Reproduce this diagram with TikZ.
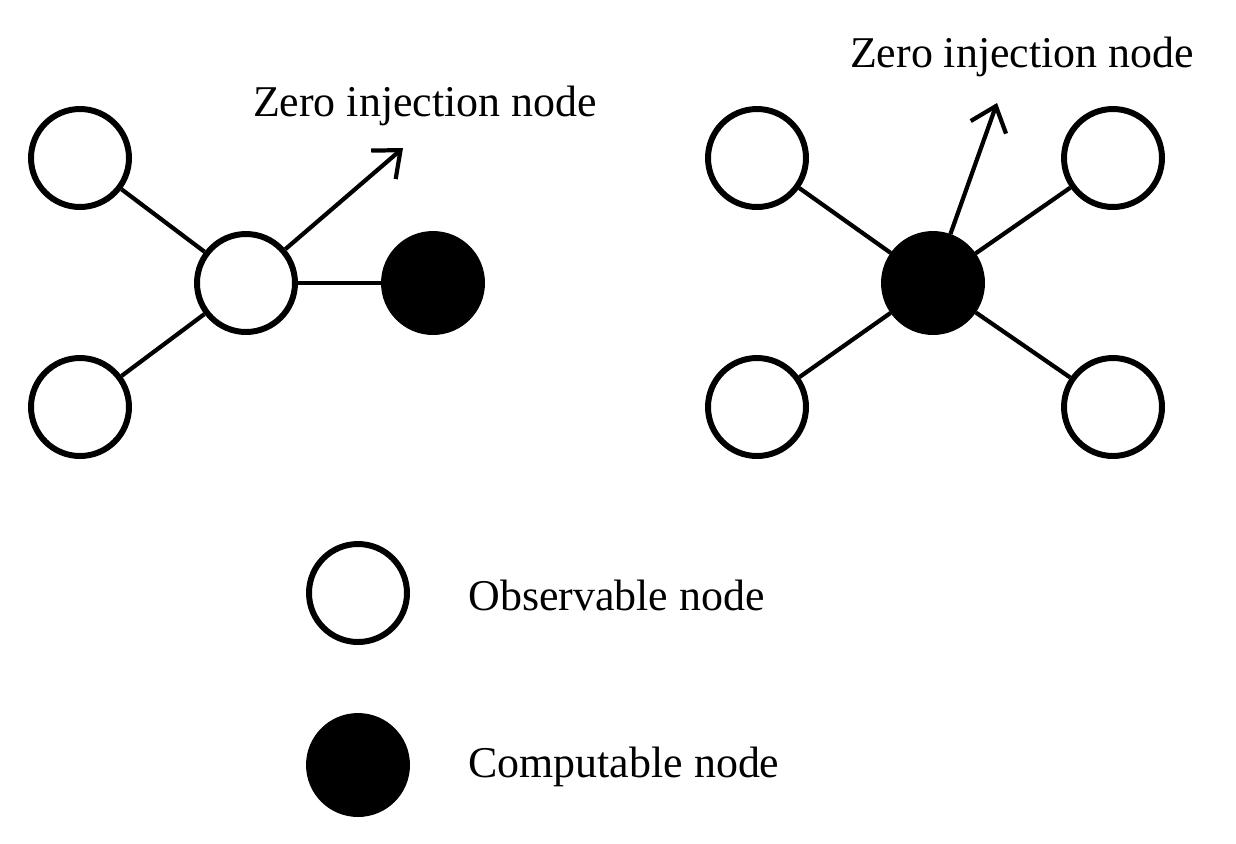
\documentclass[tikz,border=0pt]{standalone}
\usepackage{fontspec}
\setmainfont{Liberation Serif}
\usetikzlibrary{arrows.meta}
\begin{document}
\begin{tikzpicture}[x=0.02cm,y=-0.02cm,
  obs/.style={circle,draw,line width=3.4pt,minimum size=1.96cm,inner sep=0pt,fill=white},
  comp/.style={circle,draw,line width=3.4pt,minimum size=1.96cm,inner sep=0pt,fill=black},
  edge/.style={line width=2.4pt},
  arr/.style={line width=2.4pt,-{Straight Barb[length=0.45cm,width=0.75cm,line width=2.4pt]}},
  lbl/.style={font=\fontsize{25}{30}\selectfont,inner sep=0pt}]
\useasboundingbox (0,0) rectangle (1236,843);
% left
\node[obs] (l1) at (80,158) {};
\node[obs] (l2) at (80,407) {};
\node[obs] (lc) at (246,283) {};
\node[comp] (lb) at (433,283) {};
\draw[edge] (l1) -- (lc);
\draw[edge] (l2) -- (lc);
\draw[edge] (lc) -- (lb);
\coordinate (la) at (403,148);
\draw[arr] (lc) -- (la);
\node[lbl] at (425,106) {Zero injection node};
% right
\node[obs] (r1) at (757,158) {};
\node[obs] (r2) at (1113,158) {};
\node[obs] (r3) at (757,407) {};
\node[obs] (r4) at (1113,407) {};
\node[comp] (rc) at (933,283) {};
\foreach \n in {r1,r2,r3,r4} \draw[edge] (rc) -- (\n);
\coordinate (ra) at (997,103);
\draw[arr] (rc) -- (ra);
\node[lbl] at (1022,57) {Zero injection node};
% legend
\node[obs] (k1) at (358,593) {};
\node[comp] (k2) at (358,765) {};
\node[lbl,anchor=west] at (468,595) {Observable node};
\node[lbl,anchor=west] at (468,767) {Computable node};
\end{tikzpicture}
\end{document}
